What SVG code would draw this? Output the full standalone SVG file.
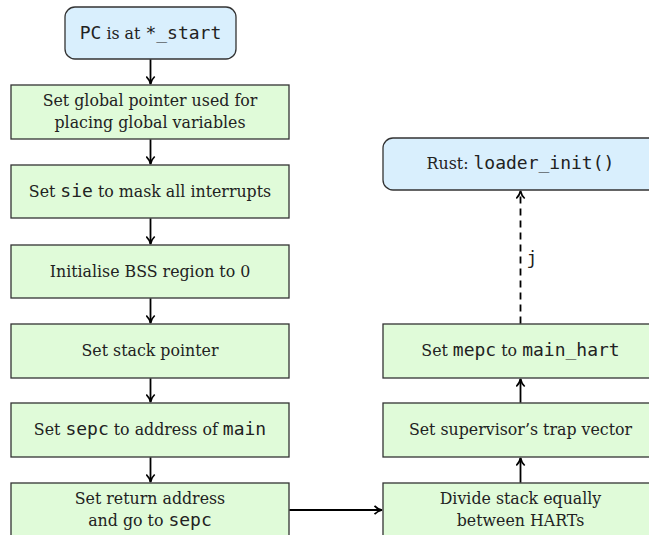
<svg xmlns="http://www.w3.org/2000/svg" width="649" height="535" viewBox="0 0 649 535">
<style>
  .g { fill: #e0fbd9; stroke: #333; stroke-width: 1.3; }
  .b { fill: #d9effd; stroke: #333; stroke-width: 1.3; }
  text { font-family: 'DejaVu Serif', 'Liberation Serif', serif; font-size: 15.8px; fill: #222; text-anchor: middle; }
  .m { font-family: 'DejaVu Sans Mono', 'Liberation Mono', monospace; font-size: 18px; }
  .c { stroke: #000; stroke-width: 1.8; fill: none; }
  .d { stroke-dasharray: 7 5; }
</style>
<defs>
  <marker id="ah" viewBox="0 0 10 10" refX="9" refY="5" markerWidth="10" markerHeight="10" markerUnits="userSpaceOnUse" orient="auto">
    <path d="M1.5,0.8 Q4.5,4 9,5 Q4.5,6 1.5,9.2" fill="none" stroke="#000" stroke-width="1.7"/>
  </marker>
</defs>
<rect width="649" height="535" fill="#fff"/>
<g id="n0"><rect class="b" x="65" y="7" width="171" height="52" rx="10"/>
  <text x="150.5" y="38.5"><tspan class="m">PC</tspan> is at <tspan class="m">*_start</tspan></text></g>
<g id="n1"><rect class="g" x="11" y="85" width="278" height="54"/>
  <text x="150" y="106">Set global pointer used for</text>
  <text x="150" y="127.5">placing global variables</text></g>
<g id="n2"><rect class="g" x="11" y="165" width="278" height="53"/>
  <text x="150" y="196.5"><tspan>Set </tspan><tspan class="m">sie</tspan><tspan> to mask all interrupts</tspan></text></g>
<g id="n3"><rect class="g" x="11" y="245" width="278" height="53"/>
  <text x="150" y="276.5">Initialise BSS region to 0</text></g>
<g id="n4"><rect class="g" x="11" y="324" width="278" height="54"/>
  <text x="150" y="356">Set stack pointer</text></g>
<g id="n5"><rect class="g" x="11" y="403" width="278" height="54"/>
  <text x="150" y="435">Set <tspan class="m">sepc</tspan> to address of <tspan class="m">main</tspan></text></g>
<g id="n6"><rect class="g" x="11" y="483" width="278" height="60"/>
  <text x="150" y="504">Set return address</text>
  <text x="150" y="526">and go to <tspan class="m">sepc</tspan></text></g>
<g id="n7"><rect class="g" x="383" y="483" width="276" height="60"/>
  <text x="520.5" y="504">Divide stack equally</text>
  <text x="520.5" y="526">between HARTs</text></g>
<g id="n8"><rect class="g" x="383" y="403" width="276" height="54"/>
  <text x="520.5" y="435">Set supervisor’s trap vector</text></g>
<g id="n9"><rect class="g" x="383" y="324" width="276" height="54"/>
  <text x="520.5" y="356">Set <tspan class="m">mepc</tspan> to <tspan class="m">main_hart</tspan></text></g>
<g id="n10"><rect class="b" x="383" y="138" width="276" height="52" rx="10"/>
  <text x="520.5" y="169">Rust: <tspan class="m">loader_init()</tspan></text></g>
<g id="connectors">
  <line class="c" x1="150.5" y1="59.5" x2="150.5" y2="84" marker-end="url(#ah)"/>
  <line class="c" x1="150.5" y1="139.5" x2="150.5" y2="164" marker-end="url(#ah)"/>
  <line class="c" x1="150.5" y1="218.5" x2="150.5" y2="244" marker-end="url(#ah)"/>
  <line class="c" x1="150.5" y1="298.5" x2="150.5" y2="323" marker-end="url(#ah)"/>
  <line class="c" x1="150.5" y1="378.5" x2="150.5" y2="402" marker-end="url(#ah)"/>
  <line class="c" x1="150.5" y1="457.5" x2="150.5" y2="482" marker-end="url(#ah)"/>
  <line class="c" x1="289.5" y1="510" x2="382" y2="510" marker-end="url(#ah)"/>
  <line class="c" x1="520.5" y1="482.5" x2="520.5" y2="458" marker-end="url(#ah)"/>
  <line class="c" x1="520.5" y1="402.5" x2="520.5" y2="379" marker-end="url(#ah)"/>
  <line class="c d" x1="520.5" y1="323.5" x2="520.5" y2="191" marker-end="url(#ah)"/>
  <text class="m" x="532" y="264">j</text>
</g>
</svg>
